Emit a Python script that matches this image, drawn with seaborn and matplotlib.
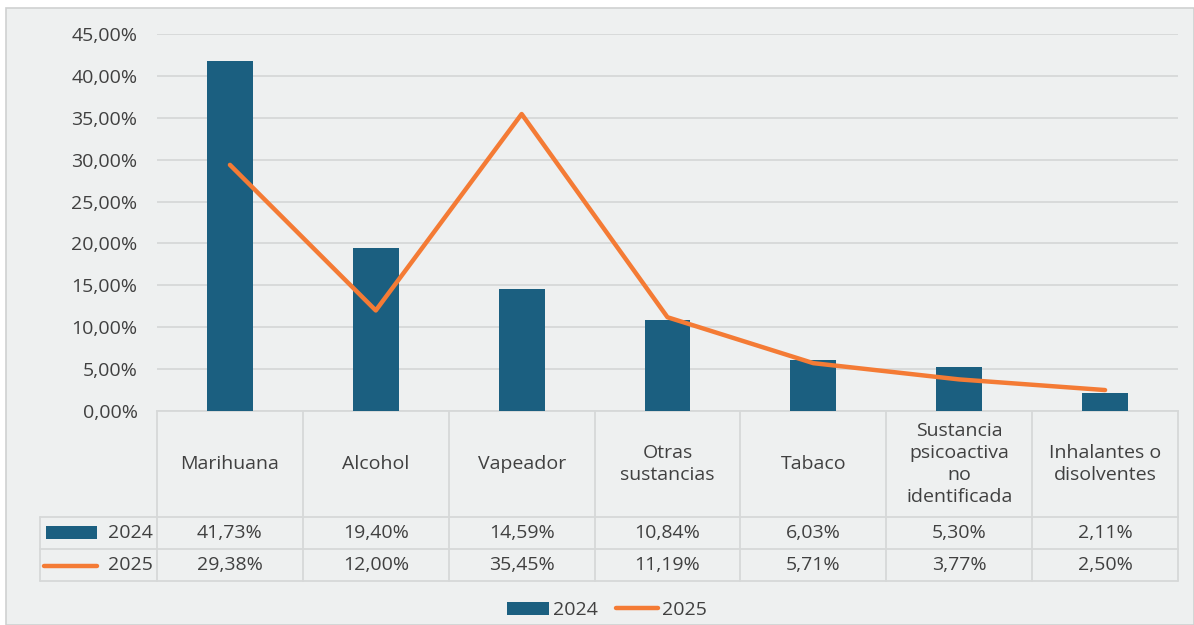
import numpy as np
import pandas as pd
import matplotlib
matplotlib.use("Agg")
import matplotlib.pyplot as plt
from matplotlib.patches import Rectangle, Patch
from matplotlib.lines import Line2D
import seaborn as sns

categories = ["Marihuana", "Alcohol", "Vapeador", "Otras\nsustancias", "Tabaco",
              "Sustancia\npsicoactiva\nno\nidentificada", "Inhalantes o\ndisolventes"]
values_2024 = [41.73, 19.40, 14.59, 10.84, 6.03, 5.30, 2.11]
values_2025 = [29.38, 12.00, 35.45, 11.19, 5.71, 3.77, 2.50]
series_names = ["2024", "2025"]
y_ticks = [0, 5, 10, 15, 20, 25, 30, 35, 40, 45]

BAR = "#1b5f80"
ORANGE = "#f47b35"
TEXT = "#404040"
GRID = "#d6d8d8"
BG = "#eef0f0"
FS = 14

sns.set_theme(style="white")
plt.rcParams["font.family"] = ["Open Sans", "DejaVu Sans"]

W, H = 1194, 625
fig = plt.figure(figsize=(W / 100, H / 100), dpi=100)
fig.patch.set_facecolor("white")
fig.add_artist(Rectangle((6 / W, 0), 1 - 6 / W, 1 - 8 / H, transform=fig.transFigure,
                         facecolor=BG, edgecolor="#cfd1d1", linewidth=1.2, zorder=-10))

def px(x0, y0, x1, y1):
    return [x0 / W, 1 - y1 / H, (x1 - x0) / W, (y1 - y0) / H]

plot_l, plot_r, plot_t, plot_b = 157, 1178, 34, 411
ax = fig.add_axes(px(plot_l, plot_t, plot_r, plot_b))
ax.set_facecolor("none")

df = pd.DataFrame({"cat": categories, "v24": values_2024, "v25": values_2025})
sns.barplot(data=df, x="cat", y="v24", color=BAR, saturation=1, width=0.315, ax=ax,
            zorder=3, linewidth=0)
sns.lineplot(x=np.arange(len(categories)), y=values_2025, color=ORANGE, linewidth=3.2,
             ax=ax, zorder=4)
ax.set_xlim(-0.5, len(categories) - 0.5)
ax.set_ylim(0, 45)
ax.set_yticks(y_ticks)
ax.set_yticklabels([f"{t:.2f}".replace(".", ",") + "%" for t in y_ticks], fontsize=FS, color=TEXT)
ax.tick_params(axis="y", length=0, pad=14)
ax.tick_params(axis="x", length=0, labelbottom=False)
ax.set_xlabel("")
ax.set_ylabel("")
ax.yaxis.grid(True, color=GRID, linewidth=1.3)
ax.set_axisbelow(True)
for s in ["top", "right", "left"]:
    ax.spines[s].set_visible(False)
ax.spines["bottom"].set_color(GRID)
ax.spines["bottom"].set_linewidth(1.3)

# ---- data table ----
n = len(categories)
colw = (plot_r - plot_l) / n
tab_l, tab_b = 40, 581
row_h1, row_h2 = 517, 549
tax = fig.add_axes(px(tab_l, plot_b, plot_r, tab_b))
tax.set_xlim(-0.5 - (plot_l - tab_l) / colw, n - 0.5)
tax.set_ylim(tab_b, plot_b)
tax.axis("off")
xl = -0.5 - (plot_l - tab_l) / colw
lc = GRID
lw = 1.3
for i in range(n + 1):
    tax.plot([i - 0.5, i - 0.5], [plot_b, tab_b], color=lc, lw=lw, clip_on=False)
tax.plot([xl, xl], [row_h1, tab_b], color=lc, lw=lw, clip_on=False)
for y in [row_h1, row_h2, tab_b]:
    tax.plot([xl, n - 0.5], [y, y], color=lc, lw=lw, clip_on=False)

for i, c in enumerate(categories):
    tax.text(i, (plot_b + row_h1) / 2, c, ha="center", va="center", fontsize=FS,
             color=TEXT, linespacing=1.3)
    tax.text(i, (row_h1 + row_h2) / 2, f"{values_2024[i]:.2f}".replace(".", ",") + "%",
             ha="center", va="center", fontsize=FS, color=TEXT)
    tax.text(i, (row_h2 + tab_b) / 2, f"{values_2025[i]:.2f}".replace(".", ",") + "%",
             ha="center", va="center", fontsize=FS, color=TEXT)

# row keys
tax.add_patch(Rectangle((xl + 6 / colw, (row_h1 + row_h2) / 2 + 6), 51 / colw, -13,
                        facecolor=BAR, edgecolor="none"))
tax.text(-0.5 - 4 / colw, (row_h1 + row_h2) / 2, series_names[0], ha="right", va="center",
         fontsize=FS, color=TEXT)
tax.plot([xl + 4 / colw, xl + 57 / colw], [(row_h2 + tab_b) / 2 + 1] * 2, color=ORANGE, lw=3.2,
         solid_capstyle="round")
tax.text(-0.5 - 4 / colw, (row_h2 + tab_b) / 2, series_names[1], ha="right", va="center",
         fontsize=FS, color=TEXT)

# ---- bottom legend ----
handles = [Patch(facecolor=BAR, edgecolor="none", label=series_names[0]),
           Line2D([0], [0], color=ORANGE, lw=3.2, label=series_names[1])]
fig.legend(handles=handles, loc="center", bbox_to_anchor=(607 / W, 1 - 610 / H), ncol=2,
           frameon=False, fontsize=FS, handlelength=2.15, handleheight=0.65,
           handletextpad=0.25, columnspacing=0.9, labelcolor=TEXT)

fig.savefig("out.png", dpi=100, facecolor=fig.get_facecolor())
